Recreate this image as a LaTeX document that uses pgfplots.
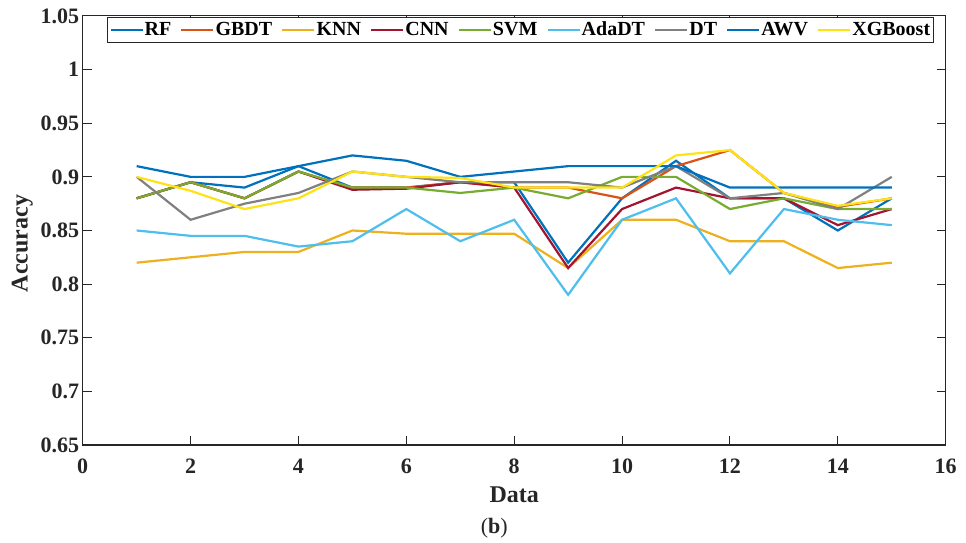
\documentclass[border=0pt]{standalone}
\usepackage{fontspec}
\setmainfont{Liberation Serif}
\usepackage{pgfplots}
\pgfplotsset{compat=1.18}

\definecolor{axgray}{RGB}{38,38,38}
\definecolor{cRF}{RGB}{0,114,189}
\definecolor{cGBDT}{RGB}{217,83,25}
\definecolor{cKNN}{RGB}{237,177,32}
\definecolor{cCNN}{RGB}{162,20,47}
\definecolor{cSVM}{RGB}{119,172,48}
\definecolor{cAda}{RGB}{77,190,238}
\definecolor{cDT}{RGB}{128,128,128}
\definecolor{cAWV}{RGB}{0,114,189}
\definecolor{cXGB}{RGB}{255,226,20}

\begin{document}
\begin{tikzpicture}
\path[use as bounding box] (0,0) rectangle (966pt,543pt);
\begin{axis}[
  at={(82.7pt,98pt)}, anchor=south west,
  width=863pt, height=429pt, scale only axis,
  clip=false,
  xmin=0, xmax=16, ymin=0.65, ymax=1.05,
  xtick={0,2,4,6,8,10,12,14,16},
  ytick={0.65,0.7,0.75,0.8,0.85,0.9,0.95,1,1.05},
  yticklabels={0.65,0.7,0.75,0.8,0.85,0.9,0.95,1,1.05},
  tick align=inside, major tick length=9pt,
  axis line style={draw=axgray, line width=1pt},
  every tick/.style={draw=axgray, line width=1pt},
  ticklabel style={font=\fontsize{22}{22}\selectfont\bfseries, text=axgray},
  /pgf/number format/assume math mode=true,
  xticklabel style={yshift=-10pt},
  xlabel={Data}, ylabel={Accuracy},
  label style={font=\fontsize{24}{24}\selectfont\bfseries, text=axgray},
  xlabel style={at={(axis description cs:0.5,-0.1166)}, anchor=center},
  ylabel style={at={(axis description cs:-0.07,0.47)}, anchor=center},
  legend columns=-1,
  legend image code/.code={\draw[#1, line width=2.2pt] (0pt,0pt) -- (32pt,0pt);},
  legend style={at={(axis description cs:0.0282,0.998)}, anchor=north west,
    draw=axgray, line width=0.8pt, fill=white, inner sep=2pt,
    font=\fontsize{20}{20}\selectfont\bfseries,
    nodes={inner xsep=1pt, inner ysep=2pt, text height=14pt, text depth=3pt},
    /tikz/every even column/.append style={column sep=8.1pt}},
  every axis plot/.append style={line width=2.2pt, mark=none},
]
% RF
\addplot[cRF] coordinates {(1,0.88)(2,0.895)(3,0.89)(4,0.91)(5,0.89)(6,0.89)(7,0.895)(8,0.895)(9,0.82)(10,0.88)(11,0.915)(12,0.88)(13,0.88)(14,0.85)(15,0.88)};
% GBDT
\addplot[cGBDT] coordinates {(1,0.88)(2,0.895)(3,0.88)(4,0.905)(5,0.89)(6,0.89)(7,0.895)(8,0.89)(9,0.89)(10,0.88)(11,0.91)(12,0.925)(13,0.885)(14,0.872)(15,0.88)};
% KNN
\addplot[cKNN] coordinates {(1,0.82)(2,0.825)(3,0.83)(4,0.83)(5,0.85)(6,0.847)(7,0.847)(8,0.847)(9,0.815)(10,0.86)(11,0.86)(12,0.84)(13,0.84)(14,0.815)(15,0.82)};
% CNN
\addplot[cCNN] coordinates {(1,0.88)(2,0.895)(3,0.88)(4,0.905)(5,0.888)(6,0.889)(7,0.895)(8,0.89)(9,0.815)(10,0.87)(11,0.89)(12,0.88)(13,0.88)(14,0.855)(15,0.87)};
% SVM
\addplot[cSVM] coordinates {(1,0.88)(2,0.895)(3,0.88)(4,0.905)(5,0.89)(6,0.89)(7,0.885)(8,0.89)(9,0.88)(10,0.90)(11,0.90)(12,0.87)(13,0.88)(14,0.87)(15,0.87)};
% AdaDT
\addplot[cAda] coordinates {(1,0.85)(2,0.845)(3,0.845)(4,0.835)(5,0.84)(6,0.87)(7,0.84)(8,0.86)(9,0.79)(10,0.86)(11,0.88)(12,0.81)(13,0.87)(14,0.86)(15,0.855)};
% DT
\addplot[cDT] coordinates {(1,0.90)(2,0.86)(3,0.875)(4,0.885)(5,0.905)(6,0.90)(7,0.895)(8,0.895)(9,0.895)(10,0.89)(11,0.91)(12,0.88)(13,0.885)(14,0.87)(15,0.90)};
% AWV
\addplot[cAWV] coordinates {(1,0.91)(2,0.90)(3,0.90)(4,0.91)(5,0.92)(6,0.915)(7,0.90)(8,0.905)(9,0.91)(10,0.91)(11,0.91)(12,0.89)(13,0.89)(14,0.89)(15,0.89)};
% XGBoost
\addplot[cXGB] coordinates {(1,0.90)(2,0.887)(3,0.87)(4,0.88)(5,0.905)(6,0.90)(7,0.899)(8,0.89)(9,0.89)(10,0.89)(11,0.92)(12,0.925)(13,0.885)(14,0.873)(15,0.88)};
\legend{RF,GBDT,KNN,CNN,SVM,AdaDT,DT,AWV,XGBoost}
\node[font=\fontsize{22}{22}\selectfont, text=axgray] at (axis description cs:0.477,-0.195) {(\textbf{b})};
\end{axis}
\end{tikzpicture}
\end{document}
